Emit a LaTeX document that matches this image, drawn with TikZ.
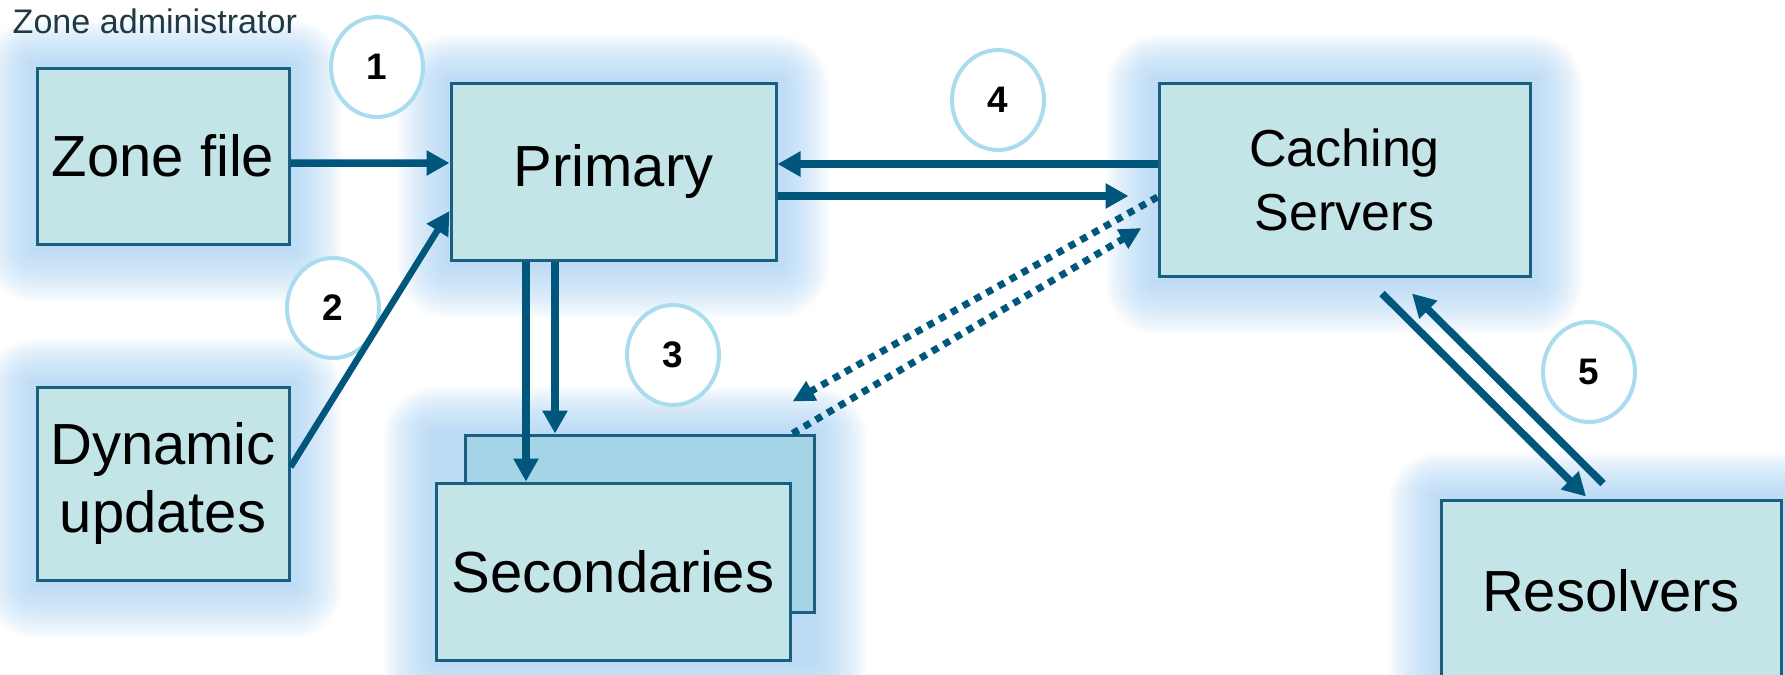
\documentclass[tikz,border=0pt]{standalone}
\usepackage{fontspec}
\setmainfont{Liberation Sans}
\usepackage{tikz}
\usetikzlibrary{
  shapes.geometric,
  calc,
  arrows.meta
}
\usepackage{xcolor}

\definecolor{boxfill}{HTML}{C4E5E8}
\definecolor{boxline}{HTML}{1A5E80}
\definecolor{flowblue}{HTML}{00577B}
\definecolor{ringblue}{HTML}{A9DCEE}
\definecolor{stackfill}{HTML}{A4D4E6}
\definecolor{glowblue}{HTML}{9ECBF0}
\definecolor{admintext}{HTML}{203A45}

\pgfdeclarelayer{glow}
\pgfsetlayers{glow,main}

\tikzset{
  server/.style={draw=boxline, line width=0.3mm, fill=boxfill, align=center,
    font=\fontsize{16.5}{19}\selectfont},
  badge/.style={ellipse, draw=ringblue, line width=0.4mm, fill=white,
    minimum width=9.2mm, minimum height=10mm, inner sep=0pt,
    font=\fontsize{10.5}{12}\selectfont\bfseries},
  flow/.style={draw=flowblue, line width=0.75mm, -{Triangle[length=2.3mm,width=2.4mm]}},
  query/.style={flow, line width=0.7mm, dash pattern=on 0.7mm off 0.65mm,
    -{Triangle[length=2.2mm,width=2.1mm]}}
}

% soft blue halo behind a box, given its two corners
\newcommand{\haze}[2]{%
  \begin{pgfonlayer}{glow}
    \foreach \g [evaluate=\g as \rr using \g*0.1] in {2,4,...,52}
      \fill[glowblue, opacity=0.045, rounded corners=\rr mm]
        ($#1+(-\g,-\g*0.9)$) rectangle ($#2+(\g,\g*1.1)$);
  \end{pgfonlayer}}

\begin{document}
\begin{tikzpicture}[x=0.1mm,y=-0.1mm]
    \useasboundingbox (0,0) rectangle (1785,674);

    \node[anchor=base west, inner sep=0pt, text=admintext, font=\fontsize{9.7}{11}\selectfont]
        (admin) at (12,33) {Zone administrator};

    % the servers
    \node[server, minimum width=25.2mm, minimum height=17.6mm] (zonefile) at (163,156) {Zone file};
    \node[server, minimum width=25.2mm, minimum height=19.3mm, font=\fontsize{16.5}{19.1}\selectfont]
        (dynupd) at (163,483.5) {Dynamic\\updates};
    \node[server, minimum width=32.5mm, minimum height=17.7mm] (primary) at (613.5,171.5) {Primary};
    \node[server, minimum width=37.1mm, minimum height=19.3mm, font=\fontsize{14.8}{18.2}\selectfont]
        (caching) at (1344.5,179.5) {Caching\\Servers};
    \node[server, fill=stackfill, minimum width=34.9mm, minimum height=17.7mm] (secback) at (639.5,523.5) {};
    \node[server, minimum width=35.4mm, minimum height=17.7mm] (secondaries) at (613,571.5) {Secondaries};
    \node[server, minimum width=34mm, minimum height=18.2mm] (resolvers) at (1611,591) {Resolvers};

    \haze{(zonefile.north west)}{(zonefile.south east)}
    \haze{(dynupd.north west)}{(dynupd.south east)}
    \haze{(primary.north west)}{(primary.south east)}
    \haze{(caching.north west)}{(caching.south east)}
    \haze{(secondaries.west |- secback.north)}{(secback.east |- secondaries.south)}
    \haze{(resolvers.north west)}{(resolvers.south east)}

    % numbered steps
    \node[badge] (n1) at (377,67) {1};
    \node[badge] (n2) at (333,308) {2};
    \node[badge] (n3) at (673,355) {3};
    \node[badge] (n4) at (998,100) {4};
    \node[badge] (n5) at (1589,372) {5};

    % updates into the primary
    \draw[flow] ([yshift=-0.7mm]zonefile.east) -- ([yshift=0.85mm]primary.west);
    \draw[flow, line width=0.65mm] ([yshift=1.65mm]dynupd.east) -- ([yshift=-3.95mm]primary.west);

    % zone transfers
    \coordinate (xfrA) at ([xshift=-8.75mm]primary.south);
    \coordinate (xfrB) at ([xshift=-5.85mm]primary.south);
    \draw[flow] (xfrA) -- (xfrA |- secondaries.north);
    \draw[flow] (xfrB) -- (xfrB |- secback.north);

    % primary <-> caching servers
    \coordinate (askP) at ([yshift=1.55mm]caching.west);
    \draw[flow] (askP) -- (askP -| primary.east);
    \coordinate (ansP) at ([yshift=-2.45mm]primary.east);
    \coordinate (ansC) at ([xshift=-2.9mm]ansP -| caching.west);
    \draw[flow] (ansP) -- (ansC);

    % secondaries <-> caching servers
    \draw[query] ([yshift=-1.75mm]caching.west) -- ([xshift=-2.3mm,yshift=3.2mm]secback.north east);
    \draw[query] ([xshift=-2.3mm]secback.north east) -- ([xshift=-1.6mm,yshift=-4.85mm]caching.west);

    % caching servers <-> resolvers
    \draw[flow] ([xshift=3.75mm,yshift=-1.6mm]caching.south) -- ([xshift=-2.5mm,yshift=0.2mm]resolvers.north);
    \draw[flow] ([xshift=-0.8mm,yshift=1.5mm]resolvers.north) -- ([xshift=6.75mm,yshift=-1.6mm]caching.south);
\end{tikzpicture}
\end{document}
